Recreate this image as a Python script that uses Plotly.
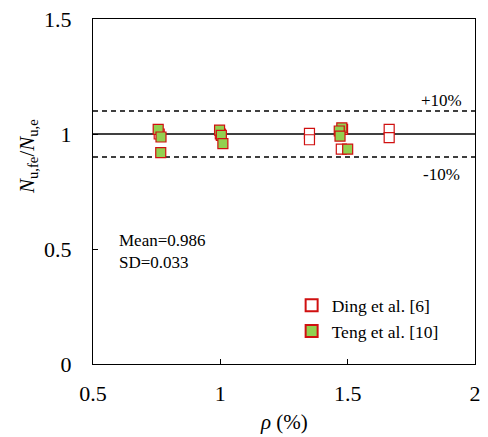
import plotly.graph_objects as go

# Reinforcement ratio (%) and predicted/tested capacity ratio per source
ding_rho = [0.76, 1.00, 1.35, 1.35, 1.475, 1.48, 1.663, 1.663]
ding_ratio = [1.000, 1.000, 1.003, 0.975, 0.934, 1.020, 1.020, 0.984]

teng_rho = [0.756, 0.767, 0.766, 0.997, 1.004, 1.010, 1.477, 1.467, 1.470, 1.500]
teng_ratio = [1.020, 0.987, 0.919, 1.017, 0.994, 0.958, 1.027, 1.013, 0.991, 0.934]

x_range = [0.5, 2.0]
y_range = [0.0, 1.5]
x_ticks = [0.5, 1, 1.5, 2]
y_ticks = [0, 0.5, 1, 1.5]
ref_levels = [1.0, 1.1, 0.9]

RED = "#D01010"
GREEN = "#92D050"
FONT = "Times New Roman, Liberation Serif, serif"

fig = go.Figure()

# reference lines: exact prediction and ±10 % band
fig.add_trace(go.Scatter(x=x_range, y=[ref_levels[0]] * 2, mode="lines",
                         line=dict(color="black", width=1.3), showlegend=False,
                         hoverinfo="skip"))
for lvl in ref_levels[1:]:
    fig.add_trace(go.Scatter(x=x_range, y=[lvl] * 2, mode="lines",
                             line=dict(color="black", width=1.3, dash="5px,4px"),
                             showlegend=False, hoverinfo="skip"))

fig.add_trace(go.Scatter(
    x=ding_rho, y=ding_ratio, mode="markers", name="Ding et al. [6]",
    marker=dict(symbol="square", size=10, color="white",
                line=dict(color=RED, width=1.2))))
fig.add_trace(go.Scatter(
    x=teng_rho, y=teng_ratio, mode="markers", name="Teng et al. [10]",
    marker=dict(symbol="square", size=10, color=GREEN,
                line=dict(color=RED, width=1.2))))

axis_common = dict(showgrid=False, zeroline=False, showline=True,
                   linecolor="black", linewidth=1.3, mirror=True,
                   ticks="inside", ticklen=5, tickcolor="black", tickwidth=1,
                   tickfont=dict(family=FONT, size=22, color="black"))

fig.update_xaxes(range=x_range, tickvals=x_ticks, ticktext=["0.5", "1", "1.5", "2"],
                 ticklabelstandoff=9, **axis_common)
fig.update_yaxes(range=y_range, tickvals=y_ticks, ticktext=["0", "0.5", "1", "1.5"],
                 ticklabelstandoff=16, **axis_common)

annotations = [
    dict(text="<i>ρ</i> (%)", xref="paper", yref="paper", x=0.5, y=-0.168,
         xanchor="center", yanchor="middle", showarrow=False,
         font=dict(family=FONT, size=21, color="black")),
    dict(text="<i>N</i><sub>u,fe</sub>/<i>N</i><sub>u,e</sub>", xref="paper", yref="paper",
         x=-0.17, y=0.6, xanchor="center", yanchor="middle", textangle=-90,
         showarrow=False, font=dict(family=FONT, size=21, color="black")),
    dict(text="Mean=0.986", xref="paper", yref="paper", x=0.062, y=0.357,
         xanchor="left", yanchor="middle", showarrow=False,
         font=dict(family=FONT, size=17, color="black")),
    dict(text="SD=0.033", xref="paper", yref="paper", x=0.062, y=0.294,
         xanchor="left", yanchor="middle", showarrow=False,
         font=dict(family=FONT, size=17, color="black")),
    dict(text="+10%", xref="paper", yref="paper", x=0.912, y=0.764,
         xanchor="center", yanchor="middle", showarrow=False,
         font=dict(family=FONT, size=17, color="black")),
    dict(text="-10%", xref="paper", yref="paper", x=0.912, y=0.550,
         xanchor="center", yanchor="middle", showarrow=False,
         font=dict(family=FONT, size=17, color="black")),
]

fig.update_layout(
    width=488, height=437,
    margin=dict(l=93, r=7, t=17, b=73),
    paper_bgcolor="white", plot_bgcolor="white",
    annotations=annotations,
    legend=dict(x=0.52, y=0.222, xanchor="left", yanchor="top",
                bgcolor="rgba(0,0,0,0)", borderwidth=0,
                font=dict(family=FONT, size=17.5, color="black"),
                itemsizing="constant", tracegroupgap=0),
)

fig.write_html("out.html")
